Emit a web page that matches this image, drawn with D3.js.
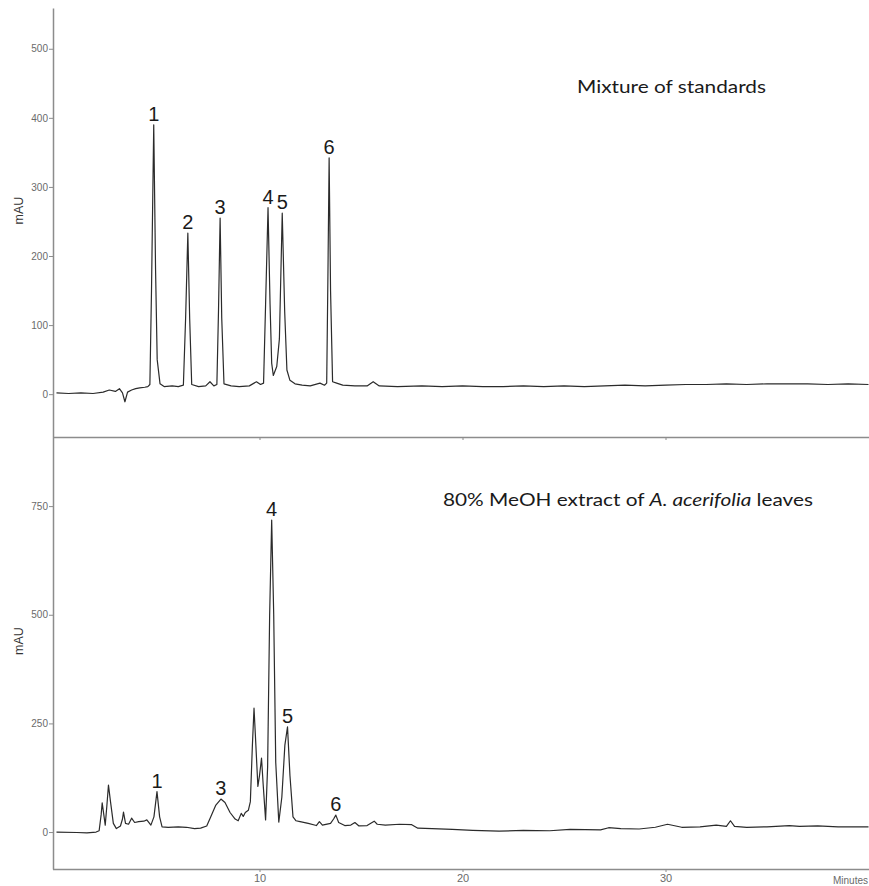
<!DOCTYPE html>
<html>
<head>
<meta charset="utf-8">
<script src="https://cdn.jsdelivr.net/npm/d3@7"></script>
<style>
  body { margin: 0; background: #fff; }
  .tick text { font-family: 'Liberation Sans', Arial, sans-serif; fill: #6a6a6a; }
  .peak { font-family: 'Liberation Sans', Arial, sans-serif; font-size: 20px; fill: #1a1a1a; }
  .title { font-family: Lato, 'Open Sans', sans-serif; font-size: 17.5px; fill: #1a1a1a; }
</style>
</head>
<body>
<div id="chart"></div>
<script>
// top trace: mixture of standards (minutes, mAU)
var stdTimes = [0, 0.6, 1.2, 1.8, 2.3, 2.6, 2.9, 3.1, 3.25, 3.37, 3.5, 3.7, 3.9, 4.1, 4.35, 4.5,
  4.6, 4.68, 4.79, 4.88, 4.96, 5.1, 5.3, 5.7, 6.0, 6.25, 6.36, 6.47, 6.56, 6.66, 7.0, 7.35,
  7.56, 7.75, 7.9, 7.98, 8.06, 8.14, 8.25, 8.6, 9.0, 9.5, 9.85, 10.05, 10.2, 10.3, 10.42, 10.52,
  10.6, 10.68, 10.85, 10.98, 11.12, 11.24, 11.35, 11.5, 11.75, 12.1, 12.5, 12.98, 13.2, 13.31,
  13.37, 13.43, 13.5, 13.6, 13.8, 14.1, 14.7, 15.3, 15.6, 15.9, 16.8, 18, 19, 20, 21, 22, 23,
  24, 25, 26, 27, 28, 29, 30, 31, 32, 33, 34, 35, 36, 37, 38, 39, 40];
var stdValues = [2, 1, 2, 1, 3, 6, 4, 8, 2, -11, 3, 6, 8, 9, 10, 11,
  14, 150, 390, 180, 50, 15, 11, 12, 11, 13, 110, 233, 110, 14, 11, 12,
  18, 12, 14, 120, 255, 110, 15, 12, 11, 12, 18, 14, 16, 130, 270, 130,
  45, 27, 40, 80, 262, 120, 35, 20, 15, 13, 12, 16, 13, 16,
  170, 342, 150, 18, 16, 13, 12, 12, 18, 12, 11, 12, 11, 12, 11, 11, 12,
  11, 12, 11, 12, 13, 12, 13, 14, 14, 15, 14, 15, 15, 15, 14, 15, 14];

// bottom trace: 80% MeOH extract
var extTimes = [0, 1.0, 1.5, 1.95, 2.1, 2.2, 2.25, 2.33, 2.4, 2.48, 2.56, 2.66, 2.8, 2.95, 3.15,
  3.25, 3.3, 3.4, 3.55, 3.7, 3.85, 4.05, 4.3, 4.45, 4.65, 4.8, 4.95, 5.08, 5.2, 5.5, 6.0, 6.4,
  6.8, 7.1, 7.4, 7.6, 7.85, 8.1, 8.3, 8.55, 8.8, 8.95, 9.1, 9.2, 9.3, 9.45, 9.55, 9.65, 9.73,
  9.8, 9.92, 10.0, 10.1, 10.18, 10.3, 10.4, 10.5, 10.6, 10.7, 10.8, 10.95, 11.1, 11.25, 11.38,
  11.5, 11.65, 11.8, 12.0, 12.4, 12.8, 12.95, 13.1, 13.5, 13.65, 13.76, 13.9, 14.2, 14.5, 14.7,
  14.9, 15.3, 15.65, 15.8, 16.2, 16.9, 17.5, 17.8, 18.5, 19.5, 20.5, 21.8, 23, 24.3, 25.3, 26.8,
  27.2, 27.8, 28.7, 29.5, 30.1, 30.8, 31.7, 32.5, 33.0, 33.2, 33.4, 34, 35, 36.1, 36.6, 37.5,
  38.5, 40];
var extValues = [0, -1, -2, 0, 3, 40, 67, 40, 16, 60, 108, 70, 20, 8, 14,
  30, 46, 20, 18, 32, 22, 24, 25, 28, 16, 35, 93, 35, 12, 11, 12, 11,
  8, 9, 14, 35, 62, 76, 68, 45, 30, 26, 43, 36, 45, 50, 70, 200, 285,
  220, 105, 130, 170, 110, 28, 150, 500, 718, 500, 160, 23, 80, 200, 242,
  130, 35, 26, 24, 20, 15, 24, 16, 20, 30, 39, 22, 15, 16, 22,
  14, 15, 25, 18, 16, 18, 17, 9, 8, 6, 4, 2, 4, 3, 6, 5,
  10, 8, 7, 11, 18, 11, 12, 16, 13, 26, 13, 11, 12, 15, 13, 14,
  12, 12];

var stdPeaks = ['1', '2', '3', '4', '5', '6'];
var stdPeakTimes = [4.79, 6.47, 8.06, 10.42, 11.12, 13.43];
var extPeaks = ['1', '3', '4', '5', '6'];
var extPeakTimes = [4.95, 8.1, 10.6, 11.38, 13.76];

var stdTicks = [0, 100, 200, 300, 400, 500];
var extTicks = [0, 250, 500, 750];
var timeTicks = [10, 20, 30];

var width = 869, height = 886;

var svg = d3.select('#chart').append('svg')
  .attr('width', width)
  .attr('height', height)
  .style('background', '#fff');

var x = d3.scaleLinear().domain([0, 40]).range([56.5, 868.5]);
var yTop = d3.scaleLinear().domain([-62, 559]).range([437, 8]);
var yBot = d3.scaleLinear().domain([-85, 909]).range([869, 437]);

function drawPanel(yScale, ticks, times, values, peaks, peakTimes, showTimeLabels) {
  var g = svg.append('g');
  var y0 = yScale.range()[0];

  // y axis
  var yAxis = g.append('g')
    .attr('transform', 'translate(53,0)')
    .call(d3.axisLeft(yScale).tickValues(ticks).tickSize(4).tickSizeOuter(0).tickPadding(1));
  yAxis.select('.domain').attr('stroke', '#8c8c8c').attr('stroke-width', 1.5);
  yAxis.selectAll('.tick line').attr('stroke', '#8c8c8c');
  yAxis.selectAll('.tick text').style('font-size', '10px');

  // time axis along the bottom of the panel
  var xAxis = g.append('g')
    .attr('transform', 'translate(0,' + y0 + ')')
    .call(d3.axisBottom(x).tickValues(timeTicks).tickSize(3).tickSizeOuter(0).tickPadding(2)
      .tickFormat(showTimeLabels ? d3.format('d') : ''));
  xAxis.select('.domain').attr('d', 'M53,0.5H869').attr('stroke', '#8c8c8c').attr('stroke-width', 1.5);
  xAxis.selectAll('.tick line').attr('stroke', '#8c8c8c');
  xAxis.selectAll('.tick text').style('font-size', '11px');

  // mAU label
  var mid = (yScale.range()[0] + yScale.range()[1]) / 2;
  g.append('text')
    .attr('transform', 'translate(23,' + (mid - 12) + ') rotate(-90)')
    .attr('text-anchor', 'middle')
    .style('font-family', "'Liberation Sans', Arial, sans-serif")
    .style('font-size', '12.5px')
    .style('fill', '#333')
    .text('mAU');

  // trace
  var pts = times.map(function(t, i) { return [t, values[i]]; });
  var line = d3.line()
    .x(function(d) { return x(d[0]); })
    .y(function(d) { return yScale(d[1]); });
  g.append('path')
    .datum(pts)
    .attr('d', line)
    .attr('fill', 'none')
    .attr('stroke', '#2b2b2b')
    .attr('stroke-width', 1.2)
    .attr('stroke-linejoin', 'round');

  // peak numbers above each apex
  g.selectAll('.peak')
    .data(peaks)
    .enter()
    .append('text')
    .attr('class', 'peak')
    .attr('text-anchor', 'middle')
    .attr('x', function(d, i) { return x(peakTimes[i]); })
    .attr('y', function(d, i) {
      var k = times.indexOf(peakTimes[i]);
      return yScale(values[k]) - 4;
    })
    .text(function(d) { return d; });
  return g;
}

drawPanel(yTop, stdTicks, stdTimes, stdValues, stdPeaks, stdPeakTimes, false);
drawPanel(yBot, extTicks, extTimes, extValues, extPeaks, extPeakTimes, true);

svg.append('text')
  .attr('class', 'title')
  .attr('x', 577)
  .attr('y', 93)
  .attr('textLength', 189)
  .attr('lengthAdjust', 'spacingAndGlyphs')
  .text('Mixture of standards');

var t2 = svg.append('text')
  .attr('class', 'title')
  .attr('x', 443)
  .attr('y', 506)
  .attr('textLength', 370)
  .attr('lengthAdjust', 'spacingAndGlyphs');
t2.append('tspan').text('80% MeOH extract of ');
t2.append('tspan').style('font-style', 'italic').text('A. acerifolia');
t2.append('tspan').text(' leaves');

svg.append('text')
  .attr('x', 868)
  .attr('y', 884)
  .attr('text-anchor', 'end')
  .style('font-family', "'Liberation Sans', Arial, sans-serif")
  .style('font-size', '10px')
  .style('fill', '#6a6a6a')
  .text('Minutes');
</script>
</body>
</html>
